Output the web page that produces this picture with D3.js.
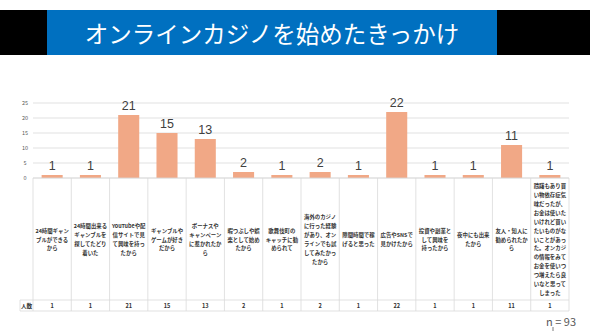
<!DOCTYPE html>
<html><head><meta charset="utf-8">
<script src="https://cdn.jsdelivr.net/npm/d3@7"></script>
<style>
html,body{margin:0;padding:0;background:#fff;}
svg{display:block;font-family:"Noto Sans CJK JP","Noto Sans",sans-serif;}
</style></head>
<body>
<svg id="c" width="590" height="331"></svg>
<script>
const title = "オンラインカジノを始めたきっかけ";
const categories = [
  ["24時間ギャン","ブルができる","から"],
  ["24時間出来る","ギャンブルを","探してたどり","着いた"],
  ["YouTubeや配","信サイトで見","て興味を持っ","たから"],
  ["ギャンブルや","ゲームが好き","だから"],
  ["ボーナスや","キャンペーン","に惹かれたか","ら"],
  ["暇つぶしや娯","楽として始め","たから"],
  ["歌舞伎町の","キャッチに勧","められて"],
  ["海外のカジノ","に行った経験","があり、オン","ラインでも試","してみたかっ","たから"],
  ["隙間時間で稼","げると思った"],
  ["広告やSNSで","見かけたから"],
  ["投資や副業と","して興味を","持ったから"],
  ["夜中にも出来","たから"],
  ["友人・知人に","勧められたか","ら"],
  ["躊躇もあり買","い物依存症気","味だったが、","お金は使いた","いけれど買い","たいものがな","いことがあっ","た。オンカジ","の情報をみて","お金を使いつ","つ増えたら良","いなと思って","しまった"]
];
const values = [1,1,21,15,13,2,1,2,1,22,1,1,11,1];
const yTicks = [0,5,10,15,20,25];
const rowLabel = "人数";
const nLabel = "n = 93";

const svg = d3.select("#c");
// title band
svg.append("rect").attr("x",0).attr("y",10).attr("width",590).attr("height",45).attr("fill","#000");
svg.append("rect").attr("x",47).attr("y",10).attr("width",450).attr("height",45).attr("fill","#0070C0");
svg.append("text").attr("x",272).attr("y",33).attr("text-anchor","middle").attr("dominant-baseline","central")
  .attr("fill","#fff").attr("font-size",23.5).attr("font-weight",400).text(title);

const pL=33, pR=569, pT=103, pB=178;
const x = d3.scaleBand().domain(d3.range(values.length)).range([pL,pR]).paddingInner(0.45).paddingOuter(0.225);
const xc = d3.scaleBand().domain(d3.range(values.length)).range([pL,pR]);
const y = d3.scaleLinear().domain([0,25]).range([pB,pT]);

// gridlines
svg.append("g").selectAll("line").data(yTicks).join("line")
  .attr("x1",pL).attr("x2",pR).attr("y1",d=>y(d)).attr("y2",d=>y(d))
  .attr("stroke","#d9d9d9").attr("stroke-width",0.8);
svg.append("g").selectAll("text").data(yTicks).join("text")
  .attr("x",25).attr("y",d=>y(d)).attr("text-anchor","middle").attr("dominant-baseline","central")
  .attr("font-size",5.5).attr("fill","#595959").text(d=>d);

// bars
svg.append("g").selectAll("rect").data(values).join("rect")
  .attr("x",(d,i)=>x(i)).attr("width",x.bandwidth())
  .attr("y",d=>y(d)).attr("height",d=>pB-y(d)).attr("fill","#F1A886");
svg.append("g").selectAll("text").data(values).join("text")
  .attr("x",(d,i)=>x(i)+x.bandwidth()/2).attr("y",d=>y(d)-5.5)
  .attr("text-anchor","middle").attr("font-size",12.5).attr("fill","#404040")
  .attr("font-family","Liberation Sans, Arial, sans-serif").text(d=>d);

// table
const tTop=178, tMid=300, tBot=311, tLeft=20;
const tg = svg.append("g").attr("stroke","#d9d9d9").attr("stroke-width",0.8);
tg.append("line").attr("x1",pL).attr("x2",pR).attr("y1",tTop).attr("y2",tTop);
tg.append("line").attr("x1",tLeft).attr("x2",pR).attr("y1",tMid).attr("y2",tMid);
tg.append("line").attr("x1",tLeft).attr("x2",pR).attr("y1",tBot).attr("y2",tBot);
tg.append("line").attr("x1",tLeft).attr("x2",tLeft).attr("y1",tMid).attr("y2",tBot);
tg.selectAll("line.v").data(d3.range(values.length+1)).join("line").attr("class","v")
  .attr("x1",i=>pL+i*xc.step()).attr("x2",i=>pL+i*xc.step()).attr("y1",tTop).attr("y2",tBot);

const lh=8.9, cy=239.5;
const cg = svg.append("g");
categories.forEach((lines,i)=>{
  const t = cg.append("text").attr("text-anchor","middle").attr("font-size",5.4).attr("font-weight",700).attr("fill","#333");
  const y0 = cy - (lines.length-1)*lh/2;
  lines.forEach((ln,j)=>{
    t.append("tspan").attr("x",xc(i)+xc.bandwidth()/2).attr("y",y0+j*lh).attr("dominant-baseline","central").text(ln);
  });
});
svg.append("text").attr("x",26.5).attr("y",305.5).attr("text-anchor","middle").attr("dominant-baseline","central")
  .attr("font-size",5.6).attr("font-weight",700).attr("fill","#333").text(rowLabel);
svg.append("g").selectAll("text").data(values).join("text")
  .attr("x",(d,i)=>xc(i)+xc.bandwidth()/2).attr("y",305.5).attr("text-anchor","middle").attr("dominant-baseline","central")
  .attr("font-size",5.6).attr("font-weight",700).attr("fill","#333").text(d=>d);

svg.append("text").attr("x",576).attr("y",321).attr("text-anchor","end").attr("dominant-baseline","central")
  .attr("font-size",11).attr("fill","#595959").text(nLabel);
svg.append("line").attr("x1",553).attr("x2",553).attr("y1",327).attr("y2",331).attr("stroke","#595959").attr("stroke-width",0.8);
</script>
</body></html>
